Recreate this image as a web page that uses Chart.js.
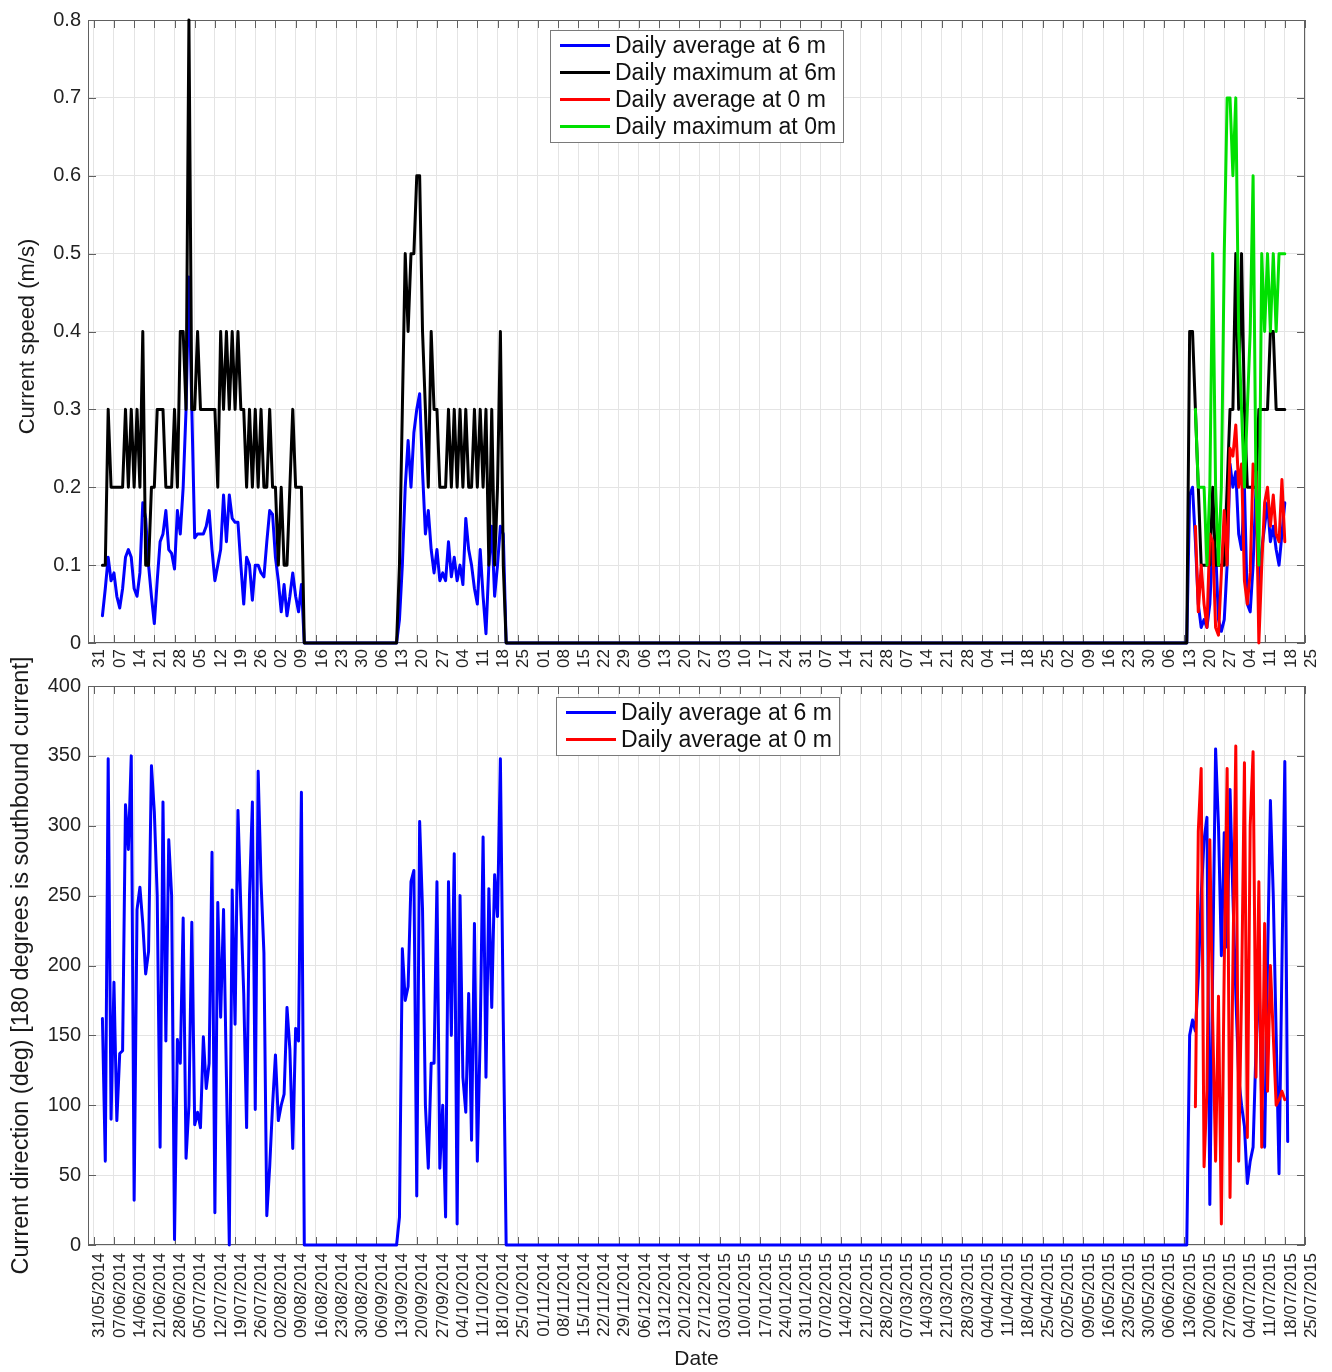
<!DOCTYPE html>
<html>
<head>
<meta charset="utf-8">
<title>Current speed and direction</title>
<script src="https://cdn.jsdelivr.net/npm/chart.js@4.4.1/dist/chart.umd.min.js"></script>
<style>
  html, body { margin: 0; padding: 0; background: #ffffff; }
  #page { position: relative; width: 1332px; height: 1372px; overflow: hidden; }
  .panel { position: absolute; left: 0; width: 1332px; }
  #speedPanel { top: 0; height: 680px; }
  #dirPanel { top: 640px; height: 732px; }
</style>
</head>
<body>
<div id="page">
  <div class="panel" id="speedPanel"><canvas id="speedChart"></canvas></div>
  <div class="panel" id="dirPanel"><canvas id="dirChart"></canvas></div>
</div>
<script>
// ---- x axis: weekly ticks ----
const tickDates = [
  '31/05/2014','07/06/2014','14/06/2014','21/06/2014','28/06/2014','05/07/2014','12/07/2014','19/07/2014',
  '26/07/2014','02/08/2014','09/08/2014','16/08/2014','23/08/2014','30/08/2014','06/09/2014','13/09/2014',
  '20/09/2014','27/09/2014','04/10/2014','11/10/2014','18/10/2014','25/10/2014','01/11/2014','08/11/2014',
  '15/11/2014','22/11/2014','29/11/2014','06/12/2014','13/12/2014','20/12/2014','27/12/2014','03/01/2015',
  '10/01/2015','17/01/2015','24/01/2015','31/01/2015','07/02/2015','14/02/2015','21/02/2015','28/02/2015',
  '07/03/2015','14/03/2015','21/03/2015','28/03/2015','04/04/2015','11/04/2015','18/04/2015','25/04/2015',
  '02/05/2015','09/05/2015','16/05/2015','23/05/2015','30/05/2015','06/06/2015','13/06/2015','20/06/2015',
  '27/06/2015','04/07/2015','11/07/2015','18/07/2015','25/07/2015'
];
const axisStartDate = '29/05/2014';
const axisEndDate = '25/07/2015';

// first day of each deployment record
const deploymentStarts = ['03/06/2014', '13/09/2014', '14/06/2015'];
const surfaceStart = '17/06/2015';

// ---- current speed (m/s) ----
const speedTicks = [0, 0.1, 0.2, 0.3, 0.4, 0.5, 0.6, 0.7, 0.8];

const avgSpeed6m_1 = [0.035,0.07,0.11,0.08,0.09,0.06,0.045,0.07,0.11,0.12,0.11,0.07,0.06,0.09,0.18,0.16,0.1,0.06,0.025,0.08,
  0.13,0.14,0.17,0.12,0.115,0.095,0.17,0.14,0.2,0.3,0.47,0.3,0.135,0.14,0.14,0.14,0.15,0.17,0.12,0.08,
  0.1,0.12,0.19,0.13,0.19,0.16,0.155,0.155,0.1,0.05,0.11,0.1,0.055,0.1,0.1,0.09,0.085,0.13,0.17,0.165,
  0.11,0.08,0.04,0.075,0.035,0.06,0.09,0.06,0.04,0.075,0];
const avgSpeed6m_2 = [0,0.03,0.1,0.2,0.26,0.2,0.27,0.3,0.32,0.22,0.14,0.17,0.12,0.09,0.12,0.08,0.09,0.08,0.13,0.085,
  0.11,0.08,0.1,0.075,0.16,0.12,0.1,0.07,0.05,0.12,0.06,0.012,0.1,0.15,0.06,0.1,0.15,0.14,0];
const avgSpeed6m_3 = [0,0.19,0.2,0.13,0.05,0.02,0.03,0.02,0.05,0.13,0.12,0.03,0.015,0.03,0.1,0.23,0.2,0.22,0.14,0.12,
  0.2,0.05,0.04,0.1,0.2,0.07,0.12,0.15,0.18,0.13,0.15,0.12,0.1,0.14,0.18];

const maxSpeed6m_1 = [0.1,0.1,0.3,0.2,0.2,0.2,0.2,0.2,0.3,0.2,0.3,0.2,0.3,0.2,0.4,0.1,0.1,0.2,0.2,0.3,
  0.3,0.3,0.2,0.2,0.2,0.3,0.2,0.4,0.4,0.3,0.8,0.3,0.3,0.4,0.3,0.3,0.3,0.3,0.3,0.3,
  0.2,0.4,0.3,0.4,0.3,0.4,0.3,0.4,0.3,0.3,0.2,0.3,0.2,0.3,0.2,0.3,0.2,0.2,0.3,0.2,
  0.2,0.1,0.2,0.1,0.1,0.2,0.3,0.2,0.2,0.2,0];
const maxSpeed6m_2 = [0,0.1,0.3,0.5,0.4,0.5,0.5,0.6,0.6,0.4,0.3,0.2,0.4,0.3,0.3,0.2,0.2,0.2,0.3,0.2,
  0.3,0.2,0.3,0.2,0.3,0.2,0.2,0.3,0.2,0.3,0.2,0.3,0.1,0.3,0.1,0.2,0.4,0.1,0];
const maxSpeed6m_3 = [0,0.4,0.4,0.3,0.2,0.1,0.1,0.1,0.1,0.2,0.1,0.1,0.1,0.1,0.2,0.3,0.3,0.5,0.3,0.5,
  0.3,0.2,0.2,0.2,0.2,0.3,0.3,0.3,0.3,0.4,0.4,0.3,0.3,0.3,0.3];

const avgSpeed0m = [0.15,0.04,0.1,0.05,0.02,0.14,0.13,0.02,0.01,0.09,0.17,0.1,0.25,0.24,0.28,0.2,
  0.23,0.08,0.05,0.09,0.23,0.22,0,0.1,0.18,0.2,0.15,0.19,0.14,0.13,0.21,0.13];
const maxSpeed0m = [0.3,0.2,0.2,0.2,0.1,0.2,0.5,0.2,0.1,0.2,0.5,0.7,0.7,0.6,0.7,0.4,
  0.3,0.2,0.3,0.4,0.6,0.2,0.1,0.5,0.4,0.5,0.4,0.5,0.4,0.5,0.5,0.5];

// ---- current direction (deg) ----
const dirTicks = [0, 50, 100, 150, 200, 250, 300, 350, 400];

const avgDir6m_1 = [162,60,348,90,188,89,137,139,315,283,350,32,240,256,230,194,210,343,310,250,
  70,317,146,290,250,4,147,130,234,62,100,231,86,95,84,149,112,130,281,23,
  245,163,240,120,0,254,158,311,241,180,84,250,317,97,339,260,209,21,56,100,
  136,89,100,108,170,140,69,155,146,324,0];
const avgDir6m_2 = [0,20,212,175,185,260,268,35,303,240,100,55,130,130,260,55,100,20,260,150,
  280,15,250,120,95,180,75,230,60,150,292,120,255,170,265,235,348,160,0];
const avgDir6m_3 = [0,150,161,153,192,250,290,306,29,200,355,300,207,295,213,326,250,180,120,100,
  85,44,60,70,140,200,100,70,200,318,250,150,51,200,346,74];

const avgDir0m = [99,296,341,56,111,290,160,60,178,15,200,341,34,200,357,60,
  180,345,77,300,353,120,260,70,230,110,200,150,100,104,110,104];

// ---- helpers ----
const DAY_MS = 86400000;
function dayNumber(ddmmyyyy) {
  const [d, m, y] = ddmmyyyy.split('/').map(Number);
  const [d0, m0, y0] = tickDates[0].split('/').map(Number);
  return Math.round((Date.UTC(y, m - 1, d) - Date.UTC(y0, m0 - 1, d0)) / DAY_MS);
}
function toPoints(startDate, values) {
  const s = dayNumber(startDate);
  return values.map((v, i) => ({ x: s + i, y: v }));
}
function joinRecords(parts) {
  return parts.flatMap((vals, k) => toPoints(deploymentStarts[k], vals));
}
const tickDays = tickDates.map(dayNumber);

const FONT = '"Liberation Sans", Arial, Helvetica, sans-serif';
const GRID = '#e4e4e4';

// axes box with inward tick marks
const framePlugin = {
  id: 'frame',
  beforeDatasetsDraw(chart) {
    const { ctx, chartArea: a, scales } = chart;
    ctx.save();
    ctx.strokeStyle = '#606060';
    ctx.lineWidth = 1;
    ctx.strokeRect(Math.round(a.left) + 0.5, Math.round(a.top) + 0.5,
      Math.round(a.right - a.left) - 1, Math.round(a.bottom - a.top) - 1);
    ctx.beginPath();
    const L = 8;
    scales.x.ticks.forEach(t => {
      const px = Math.round(scales.x.getPixelForValue(t.value)) + 0.5;
      ctx.moveTo(px, a.bottom); ctx.lineTo(px, a.bottom - L);
      ctx.moveTo(px, a.top); ctx.lineTo(px, a.top + L);
    });
    scales.y.ticks.forEach(t => {
      const py = Math.round(scales.y.getPixelForValue(t.value)) + 0.5;
      ctx.moveTo(a.left, py); ctx.lineTo(a.left + L, py);
      ctx.moveTo(a.right, py); ctx.lineTo(a.right - L, py);
    });
    ctx.stroke();
    ctx.restore();
  }
};

// rotated y-axis title, centred on the plot area (not squeezed to the axis height)
const yTitlePlugin = {
  id: 'yTitle',
  afterDraw(chart, args, opts) {
    const { ctx, chartArea: a } = chart;
    ctx.save();
    ctx.translate(opts.x, (a.top + a.bottom) / 2 + (opts.dy || 0));
    ctx.rotate(-Math.PI / 2);
    ctx.font = opts.size + 'px ' + FONT;
    ctx.fillStyle = '#1a1a1a';
    ctx.textAlign = 'center';
    ctx.textBaseline = 'middle';
    ctx.fillText(opts.text, 0, 0);
    ctx.restore();
  }
};

// boxed legend drawn inside the axes
const boxLegendPlugin = {
  id: 'boxLegend',
  afterDatasetsDraw(chart, args, opts) {
    const { ctx, chartArea: a } = chart;
    const items = chart.data.datasets.map(ds => ({ text: ds.label, color: ds.borderColor }));
    ctx.save();
    ctx.font = opts.fontSize + 'px ' + FONT;
    const textW = Math.max(...items.map(it => ctx.measureText(it.text).width));
    const lineLen = opts.lineLen, padL = 10, gap = 5, padR = 7;
    const rowH = opts.rowH;
    const w = padL + lineLen + gap + textW + padR;
    const h = rowH * items.length + opts.padV * 2;
    const x = a.left + opts.dx, y = a.top + opts.dy;
    ctx.fillStyle = '#ffffff';
    ctx.fillRect(x, y, w, h);
    ctx.strokeStyle = '#7a7a7a';
    ctx.lineWidth = 1;
    ctx.strokeRect(Math.round(x) + 0.5, Math.round(y) + 0.5, Math.round(w), Math.round(h));
    ctx.textBaseline = 'middle';
    ctx.textAlign = 'left';
    items.forEach((it, r) => {
      const cy = y + opts.padV + rowH * (r + 0.5);
      ctx.strokeStyle = it.color;
      ctx.lineWidth = 3;
      ctx.beginPath();
      ctx.moveTo(x + padL, cy); ctx.lineTo(x + padL + lineLen, cy);
      ctx.stroke();
      ctx.fillStyle = '#111111';
      ctx.fillText(it.text, x + padL + lineLen + gap, cy + 1);
    });
    ctx.restore();
  }
};

function lineSet(label, color, data, order) {
  return {
    label, data, order,
    borderColor: color, backgroundColor: color,
    borderWidth: 3, pointRadius: 0, tension: 0, fill: false, clip: false,
    borderJoinStyle: 'round', borderCapStyle: 'round'
  };
}

function xScale(labels, height, fontSize, pad, title) {
  return {
    type: 'linear',
    min: dayNumber(axisStartDate),
    max: dayNumber(axisEndDate),
    afterBuildTicks: s => { s.ticks = tickDays.map(v => ({ value: v })); },
    afterFit: s => { s.height = height; s.paddingLeft = 0; s.paddingRight = 0; },
    grid: { color: GRID, drawTicks: false, lineWidth: 1 },
    border: { display: false },
    ticks: {
      autoSkip: false, maxRotation: 90, minRotation: 90, padding: pad, labelOffset: 6,
      color: '#222222', font: { family: FONT, size: fontSize },
      callback: (v, i) => labels[i]
    },
    title: title
  };
}

function yScale(values, min, max) {
  return {
    type: 'linear', min, max,
    afterBuildTicks: s => { s.ticks = values.map(v => ({ value: v })); },
    afterFit: s => { s.width = 88; s.paddingTop = 0; s.paddingBottom = 0; },
    grid: { color: GRID, drawTicks: false, lineWidth: 1 },
    border: { display: false },
    ticks: {
      padding: 7, color: '#222222', font: { family: FONT, size: 20 },
      callback: v => String(Math.round(v * 10) / 10)
    }
  };
}

const dayLabels = tickDates.map(s => s.slice(0, 2));

// ---- top panel: current speed ----
new Chart(document.getElementById('speedChart'), {
  type: 'line',
  data: {
    datasets: [
      lineSet('Daily average at 6 m', '#0000ff', joinRecords([avgSpeed6m_1, avgSpeed6m_2, avgSpeed6m_3]), 3),
      lineSet('Daily maximum at 6m', '#000000', joinRecords([maxSpeed6m_1, maxSpeed6m_2, maxSpeed6m_3]), 2),
      lineSet('Daily average at 0 m', '#ff0000', toPoints(surfaceStart, avgSpeed0m), 1),
      lineSet('Daily maximum at 0m', '#00e000', toPoints(surfaceStart, maxSpeed0m), 0)
    ]
  },
  options: {
    responsive: true, maintainAspectRatio: false, animation: false, devicePixelRatio: 1,
    layout: { padding: { top: 20, right: 27, left: 0, bottom: 0 } },
    plugins: {
      legend: { display: false }, tooltip: { enabled: false },
      boxLegend: { fontSize: 23, rowH: 27, padV: 2, lineLen: 50, dx: 462, dy: 10 },
      yTitle: { text: 'Current speed (m/s)', x: 28, size: 22, dy: 5 }
    },
    scales: {
      x: xScale(dayLabels, 37, 17, 6, { display: false }),
      y: yScale(speedTicks, 0, 0.8)
    }
  },
  plugins: [framePlugin, boxLegendPlugin, yTitlePlugin]
});

// ---- bottom panel: current direction ----
new Chart(document.getElementById('dirChart'), {
  type: 'line',
  data: {
    datasets: [
      lineSet('Daily average at 6 m', '#0000ff', joinRecords([avgDir6m_1, avgDir6m_2, avgDir6m_3]), 1),
      lineSet('Daily average at 0 m', '#ff0000', toPoints(surfaceStart, avgDir0m), 0)
    ]
  },
  options: {
    responsive: true, maintainAspectRatio: false, animation: false, devicePixelRatio: 1,
    layout: { padding: { top: 46, right: 27, left: 0, bottom: 0 } },
    plugins: {
      legend: { display: false }, tooltip: { enabled: false },
      boxLegend: { fontSize: 23, rowH: 27, padV: 2, lineLen: 50, dx: 468, dy: 11 },
      yTitle: { text: 'Current direction (deg) [180 degrees is southbound current]', x: 22, size: 23.5 }
    },
    scales: {
      x: xScale(tickDates, 127, 17, 8, {
        display: true, text: 'Date', color: '#1a1a1a',
        font: { family: FONT, size: 21 }, padding: { top: 0, bottom: 0 }
      }),
      y: yScale(dirTicks, 0, 400)
    }
  },
  plugins: [framePlugin, boxLegendPlugin, yTitlePlugin]
});
</script>
</body>
</html>
